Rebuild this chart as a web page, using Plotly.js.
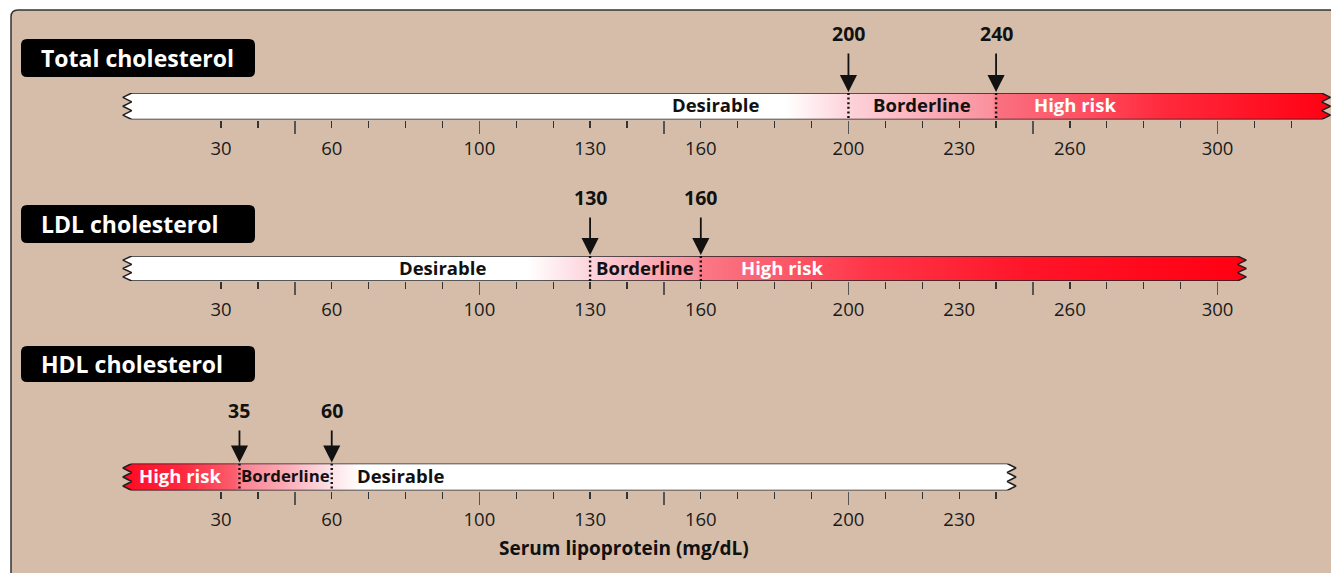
<!DOCTYPE html>
<html><head><meta charset="utf-8">
<script src="https://cdn.plot.ly/plotly-3.0.1.min.js"></script>
<style>html,body{margin:0;padding:0;background:#fff;}</style>
</head><body><div id="chart" style="width:1331px;height:573px;"></div>
<script>
// ---------------- DATA ----------------
const panelNames = ['Total cholesterol', 'LDL cholesterol', 'HDL cholesterol'];
const totalThresholds = [200, 240];
const ldlThresholds = [130, 160];
const hdlThresholds = [35, 60];
const totalZones = ['Desirable', 'Borderline', 'High risk'];
const ldlZones = ['Desirable', 'Borderline', 'High risk'];
const hdlZones = ['High risk', 'Borderline', 'Desirable'];
const totalTickLabels = [30, 60, 100, 130, 160, 200, 230, 260, 300];
const ldlTickLabels = [30, 60, 100, 130, 160, 200, 230, 260, 300];
const hdlTickLabels = [30, 60, 100, 130, 160, 200, 230];
const scaleTickStart = [30, 30, 30];
const scaleTickEnd = [320, 300, 240];
const scaleTickStep = 10;
const longTickStep = 50;
const axisTitle = 'Serum lipoprotein (mg/dL)';

// ---------------- LAYOUT / STYLE ----------------
const W = 1331, H = 573;
const PX0 = 110.3, PXU = 3.6907;            // pixel of value 0, pixels per unit
const xRange = [-PX0 / PXU, (W - PX0) / PXU];
const FONT = 'Open Sans, Noto Sans, sans-serif';
const px = p => p / W;
const py = p => 1 - p / H;

const panels = [
  { thresholds: totalThresholds, zones: totalZones, labels: totalTickLabels,
    barTop: 93, barBot: 119.5, barStart: 5.8, barEnd: 328.2,
    box: [21, 39, 255, 77], arrowLabelY: 32.5,
    zoneX: [164, 220, 261.5], zoneColor: ['#111', '#111', '#fff'], zoneSize: [18.5, 18.5, 18.5],
    grad: [[3.4,'#ffffff'],[183,'#ffffff'],[200,'#fdd3da'],[239,'#fa909c'],[240.5,'#fa7080'],
           [262,'#fd5364'],[285,'#ff2a3d'],[331,'#ff0012']] },
  { thresholds: ldlThresholds, zones: ldlZones, labels: ldlTickLabels,
    barTop: 256, barBot: 281, barStart: 5.8, barEnd: 305.4,
    box: [21, 205, 255, 243], arrowLabelY: 196.5,
    zoneX: [90, 145, 182], zoneColor: ['#111', '#111', '#fff'], zoneSize: [18.5, 18.5, 18.5],
    grad: [[3.4,'#ffffff'],[113,'#ffffff'],[130,'#fdd4db'],[159,'#fa8e9a'],[160.5,'#fa7886'],
           [185,'#fc5566'],[205,'#ff3648'],[250,'#ff1428'],[308,'#ff0012']] },
  { thresholds: hdlThresholds, zones: hdlZones, labels: hdlTickLabels,
    barTop: 463.5, barBot: 490.5, barStart: 5.8, barEnd: 243,
    box: [21, 346, 255, 382], arrowLabelY: 409.5,
    zoneX: [19, 47.6, 78.5], zoneColor: ['#fff', '#111', '#111'], zoneSize: [18.5, 16.8, 18.5],
    grad: [[3.4,'#ff0a22'],[20,'#ff2a3f'],[34,'#fb6070'],[35.5,'#fb8290'],[48,'#fcadb8'],
           [60,'#fde2e7'],[68,'#ffffff'],[246,'#ffffff']] }
];

function rrect(x0, y0, x1, y1, r) {
  const P = (x, y) => px(x) + ',' + py(y);
  return 'M' + P(x0 + r, y0) + ' L' + P(x1 - r, y0) + ' Q' + P(x1, y0) + ' ' + P(x1, y0 + r) +
         ' L' + P(x1, y1 - r) + ' Q' + P(x1, y1) + ' ' + P(x1 - r, y1) +
         ' L' + P(x0 + r, y1) + ' Q' + P(x0, y1) + ' ' + P(x0, y1 - r) +
         ' L' + P(x0, y0 + r) + ' Q' + P(x0, y0) + ' ' + P(x0 + r, y0) + ' Z';
}

const ZIG = 2.4;
const zigY = [1, 5/6, 4/6, 3/6, 2/6, 1/6, 0];
const zigOff = [0, 1, 0, 1, 0, 1, 0];

const traces = [];
const layout = {
  width: W, height: H,
  margin: { l: 0, r: 0, t: 0, b: 0 },
  paper_bgcolor: '#ffffff', plot_bgcolor: 'rgba(0,0,0,0)',
  showlegend: false,
  font: { family: FONT, color: '#231f20' },
  shapes: [], annotations: []
};

// background frame
layout.shapes.push({ type: 'path', xref: 'paper', yref: 'paper', layer: 'below',
  path: rrect(11, 10, 1360, 600, 7), fillcolor: '#d5bda9', line: { color: '#333', width: 1.5 } });

panels.forEach((p, i) => {
  const n = i + 1;
  const xa = n === 1 ? 'x' : 'x' + n, ya = n === 1 ? 'y' : 'y' + n;
  const xo = 'x' + (n + 3);
  const xKey = n === 1 ? 'xaxis' : 'xaxis' + n;
  const yKey = n === 1 ? 'yaxis' : 'yaxis' + n;

  layout[yKey] = { domain: [py(p.barBot), py(p.barTop)], range: [0, 1], visible: false, fixedrange: true };

  const tv = [];
  for (let v = scaleTickStart[i]; v <= scaleTickEnd[i]; v += scaleTickStep) tv.push(v);
  layout[xKey] = { domain: [0, 1], anchor: ya, range: xRange, fixedrange: true,
    showgrid: false, zeroline: false, showline: false,
    tickmode: 'array', tickvals: tv, ticktext: tv.map(v => p.labels.includes(v) ? String(v) : ''),
    ticks: 'outside', ticklen: 7, tickwidth: 1.3, tickcolor: '#333',
    ticklabelstandoff: 5,
    tickfont: { family: FONT, size: 18.5, color: '#1a1a1a' } };
  const lt = tv.filter(v => v % longTickStep === 0);
  layout['xaxis' + (n + 3)] = { overlaying: xa, anchor: ya, range: xRange, fixedrange: true,
    showgrid: false, zeroline: false, showline: false,
    tickmode: 'array', tickvals: lt, showticklabels: false,
    ticks: 'outside', ticklen: 13, tickwidth: 1.6, tickcolor: '#555' };

  // bar polygon with zigzag ends
  const s = p.barStart, e = p.barEnd;
  const bx = [], by = [];
  bx.push(s); by.push(1);
  bx.push(e); by.push(1);
  zigY.forEach((yy, k) => { bx.push(e + ZIG * zigOff[k]); by.push(yy); });
  bx.push(s); by.push(0);
  for (let k = zigY.length - 1; k >= 0; k--) { bx.push(s - ZIG * zigOff[k]); by.push(zigY[k]); }
  const g0 = p.grad[0][0], g1 = p.grad[p.grad.length - 1][0];
  traces.push({ type: 'scatter', mode: 'lines', x: bx, y: by, xaxis: xa, yaxis: ya,
    fill: 'toself', line: { color: '#231f20', width: 1.5 }, hoverinfo: 'skip',
    fillgradient: { type: 'horizontal', start: g0, stop: g1,
      colorscale: p.grad.map(([v, c]) => [(v - g0) / (g1 - g0), c]) } });

  // dotted threshold lines (on overlay axis)
  const dx = [], dy = [];
  p.thresholds.forEach(t => { dx.push(t, t, null); dy.push(1, 0, null); });
  traces.push({ type: 'scatter', mode: 'lines', x: dx, y: dy, xaxis: xo, yaxis: ya,
    line: { color: '#111', width: 2.4, dash: '2px,2.6px' }, hoverinfo: 'skip' });

  // arrows with threshold labels
  p.thresholds.forEach(t => {
    layout.annotations.push({ xref: xa, yref: ya, x: t, y: 1, ax: 0, ay: p.arrowLabelY - p.barTop + 1,
      text: '<b>' + t + '</b>', showarrow: true, arrowhead: 2, arrowsize: 1.9, arrowwidth: 1.8,
      arrowcolor: '#111', standoff: 1, startstandoff: 5,
      font: { family: FONT, size: 19.5, color: '#111' } });
  });

  // zone labels
  p.zones.forEach((z, k) => {
    layout.annotations.push({ xref: xa, yref: ya, x: p.zoneX[k], y: 0.56, showarrow: false,
      xanchor: 'center', yanchor: 'middle',
      text: '<b>' + z + '</b>', font: { family: FONT, size: p.zoneSize[k], color: p.zoneColor[k] } });
  });

  // title box
  const b = p.box;
  layout.shapes.push({ type: 'path', xref: 'paper', yref: 'paper', layer: 'below',
    path: rrect(b[0], b[1], b[2], b[3], 6), fillcolor: '#000', line: { width: 0 } });
  layout.annotations.push({ xref: 'paper', yref: 'paper', x: px(39), y: py((b[1] + b[3]) / 2),
    xanchor: 'left', yanchor: 'middle', showarrow: false, text: '<b>' + panelNames[i] + '</b>',
    font: { family: FONT, size: 23, color: '#fff' } });
});

layout.annotations.push({ xref: 'paper', yref: 'paper', x: px(624), y: py(548), showarrow: false,
  xanchor: 'center', yanchor: 'middle',
  text: '<b>' + axisTitle + '</b>', font: { family: FONT, size: 19, color: '#111' } });

Plotly.newPlot('chart', traces, layout, { displayModeBar: false, staticPlot: true });
</script>
</body></html>
